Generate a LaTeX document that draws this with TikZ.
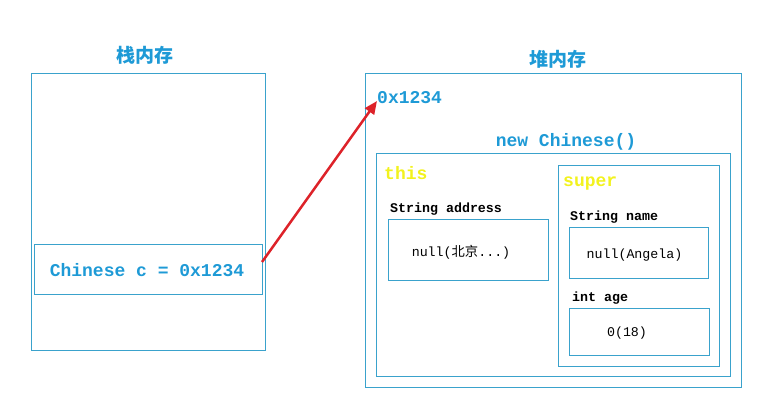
\documentclass[tikz,border=0pt]{standalone}
\usepackage{fontspec}
\setmonofont{Liberation Mono}
\newfontfamily\cjk{Noto Sans CJK SC}
\usetikzlibrary{arrows.meta}
\definecolor{boxc}{HTML}{3AA2CC}
\definecolor{txtc}{HTML}{1E9AD6}
\definecolor{yelc}{HTML}{F2F21E}
\definecolor{arrc}{HTML}{DD2229}
\tikzset{
  box/.style={draw=boxc, line width=0.9pt, inner sep=0pt, outer sep=0pt},
  bluebig/.style={text=txtc, font=\ttfamily\bfseries\fontsize{18}{20}\selectfont, inner sep=0pt},
  yel/.style={text=yelc, font=\ttfamily\bfseries\fontsize{18}{20}\selectfont, inner sep=0pt},
  title/.style={text=txtc, font=\cjk\bfseries\fontsize{19}{21}\selectfont, inner sep=0pt},
  lbl/.style={text=black, font=\ttfamily\bfseries\fontsize{13.3}{15}\selectfont, inner sep=0pt},
  val/.style={text=black, font=\ttfamily\fontsize{13.3}{15}\selectfont, inner sep=0pt},
  ptr/.style={draw=arrc, line width=2.5pt, -{Triangle[length=13pt,width=11pt]}}
}
\begin{document}
\begin{tikzpicture}[x=1pt,y=-1pt]
\useasboundingbox (0,0) rectangle (779,418);
% stack
\node[title] (stitle) at (145,55) {栈内存};
\node[box, minimum width=234pt, minimum height=277pt] (stack) at (148,211.5) {};
\node[box, minimum width=228pt, minimum height=50pt] (var) at (148,269) {};
\node[bluebig] (vartxt) at (147,270) {Chinese c = 0x1234};
% heap
\node[title] (htitle) at (558,59) {堆内存};
\node[box, minimum width=376pt, minimum height=314pt] (heap) at (553,230) {};
\node[bluebig, anchor=west] (addr) at (377,98) {0x1234};
\node[bluebig] (newc) at (566,142) {new Chinese()};
\node[box, minimum width=354pt, minimum height=223pt] (obj) at (553,264.5) {};
\node[yel, anchor=west] (this) at (384,173) {this};
\node[lbl, anchor=west] (alabel) at (390,209) {String address};
\node[box, minimum width=160pt, minimum height=61pt] (abox) at (468,249.5) {};
\node[val] (aval) at (461,252) {null(\cjk 北京\ttfamily...)};
\node[box, minimum width=161pt, minimum height=201pt] (super) at (638.5,265.5) {};
\node[yel, anchor=west] (supertxt) at (563,184) {super};
\node[lbl, anchor=west] (nlabel) at (570,217) {String name};
\node[box, minimum width=139pt, minimum height=51pt] (nbox) at (638.5,252.5) {};
\node[val] (nval) at (634.5,255) {null(Angela)};
\node[lbl, anchor=west] (glabel) at (572,298) {int age};
\node[box, minimum width=140pt, minimum height=47pt] (gbox) at (639,331.5) {};
\node[val] (gval) at (627,333) {0(18)};
% pointer
\coordinate (tip) at (377,101);
\draw[ptr] ([yshift=7pt]var.east) -- (tip);
\end{tikzpicture}
\end{document}
